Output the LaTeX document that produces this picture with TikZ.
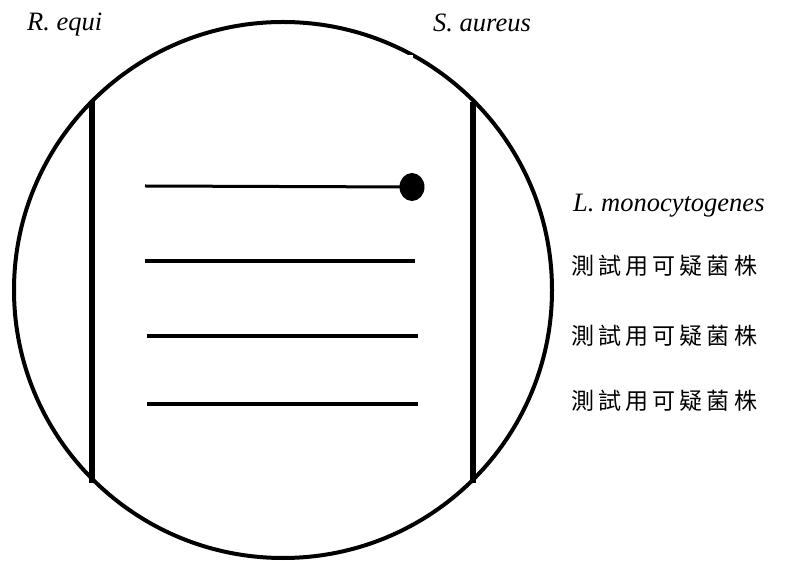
\documentclass[tikz,border=0pt]{standalone}
\usepackage{fontspec}
\usetikzlibrary{shapes.geometric}
\setmainfont{Liberation Serif}
\newfontfamily\cjk[LetterSpace=18]{Noto Sans CJK TC}
\begin{document}
\begin{tikzpicture}[x=1pt,y=1pt,
  plate/.style={line width=4pt},
  streak/.style={line width=6pt},
  testline/.style={line width=3.6pt},
  lbl/.style={font=\fontsize{26.5}{30}\selectfont\itshape, inner sep=0pt, anchor=base west},
  cjklbl/.style={font=\cjk\fontsize{23}{27}\selectfont, inner sep=0pt, anchor=base west}]
\useasboundingbox (0,0) rectangle (785,560);
% plate
\draw[plate] (283,270) ellipse [x radius=269, y radius=268];
\fill[white] (398,501) rectangle (413,505);
% streaks of R. equi and S. aureus
\coordinate (rtop) at (92,459);
\coordinate (rbot) at (92,77);
\coordinate (stop) at (473,458);
\coordinate (sbot) at (473,77);
\draw[streak] (rtop) -- (rbot);
\draw[streak] (stop) -- (sbot);
% test lines
\node[fill, ellipse, minimum width=25pt, minimum height=28pt, inner sep=0pt] (dot) at (412,373) {};
\coordinate (l1) at (145,374);
\coordinate (l2a) at (145,299); \coordinate (l2b) at (415,299);
\coordinate (l3a) at (147,224); \coordinate (l3b) at (418,224);
\coordinate (l4a) at (147,156); \coordinate (l4b) at (418,156);
\draw[line width=3pt] (l1) -- (dot.center);
\draw[testline] (l2a) -- (l2b);
\draw[testline] (l3a) -- (l3b);
\draw[testline] (l4a) -- (l4b);
% labels
\node[lbl] (requi) at (27,529) {R. equi};
\node[lbl] (saur) at (433,528) {S. aureus};
\node[lbl] (lmono) at (573,348) {L. monocytogenes};
\node[cjklbl] (t1) at (571,285) {測試用可疑菌株};
\node[cjklbl] (t2) at (571,215) {測試用可疑菌株};
\node[cjklbl] (t3) at (571,150) {測試用可疑菌株};
\end{tikzpicture}
\end{document}
